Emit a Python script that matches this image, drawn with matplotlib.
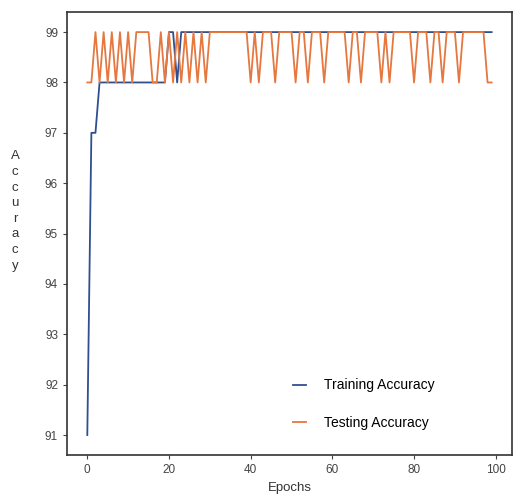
import matplotlib
matplotlib.use("Agg")
import matplotlib.pyplot as plt

plt.rcParams["font.family"] = ["Liberation Sans", "DejaVu Sans"]

epochs = list(range(100))

training_acc = [91, 97, 97] + [98] * 17 + [99, 99, 98] + [99] * 77

# testing accuracy: 99 everywhere except listed epochs at 98
testing_low_epochs = [0, 1, 3, 5, 7, 9, 11, 16, 17, 19, 21, 23, 25, 27, 29,
                      40, 42, 46, 51, 54, 58, 64, 67, 72, 74, 80, 84, 87, 91, 98, 99]
testing_acc = [98 if e in testing_low_epochs else 99 for e in epochs]

x_ticks = [0, 20, 40, 60, 80, 100]
y_ticks = [91, 92, 93, 94, 95, 96, 97, 98, 99]

fig = plt.figure(figsize=(5.16, 4.98), dpi=100)
ax = fig.add_axes([0.130, 0.086, 0.862, 0.890])

ax.plot(epochs, training_acc, color="#2f4f8f", lw=1.3, label="Training Accuracy")
ax.plot(epochs, testing_acc, color="#e5773f", lw=1.3, label="Testing Accuracy")

ax.set_xticks(x_ticks)
ax.set_yticks(y_ticks)
ax.tick_params(labelsize=8.5, colors="#444444", length=3, width=0.8)
for s in ax.spines.values():
    s.set_color("#333333")
    s.set_linewidth(1.2)

ax.set_xlabel("Epochs", fontsize=9.5, color="#333333", labelpad=4)
ax.set_ylabel("A\nc\nc\nu\nr\na\nc\ny", rotation=0, fontsize=9.5, color="#333333",
              linespacing=1.4, va="center", ha="center")
ax.yaxis.set_label_coords(-0.117, 0.551)

ax.legend(loc="center left", frameon=False, fontsize=10, labelspacing=1.7,
          handlelength=0.9, handletextpad=1.3, borderpad=0, borderaxespad=0,
          bbox_to_anchor=(0.508, 0.115))

fig.savefig("out.png", dpi=100)
